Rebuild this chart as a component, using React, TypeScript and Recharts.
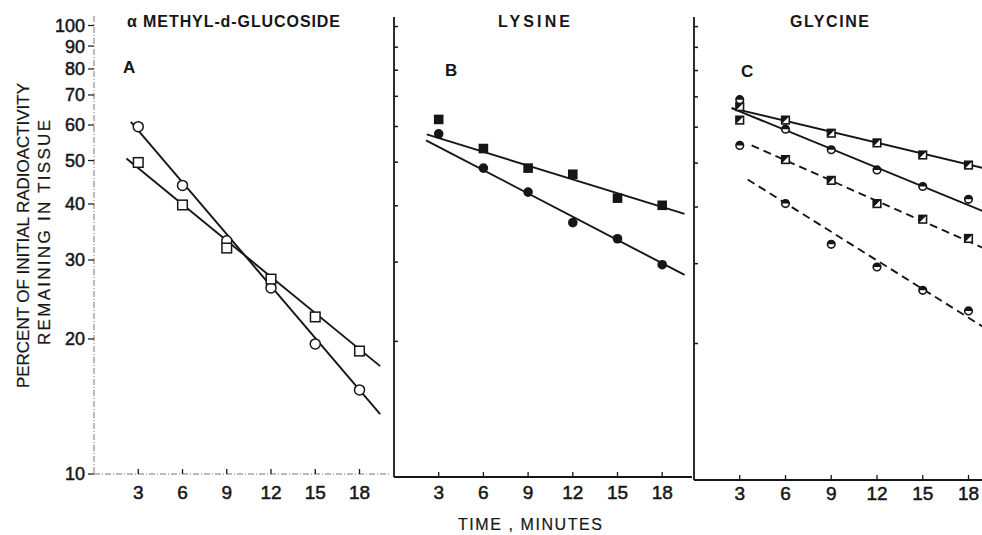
import { ComposedChart, Line, Scatter, XAxis, YAxis } from "recharts";

const INK = "#161616";
const FONT = "'Liberation Sans', Arial, sans-serif";

const minutes = [3, 6, 9, 12, 15, 18];
const yTicks = [10, 20, 30, 40, 50, 60, 70, 80, 90, 100];

// A: alpha methyl-d-glucoside
const glucosideCircles = [59.5, 44.0, 33.1, 26.0, 19.5, 15.4];
const glucosideSquares = [49.5, 39.8, 31.9, 27.2, 22.4, 18.8];
const glucosideCircleFit = [[2.5, 61], [19.4, 13.6]];
const glucosideSquareFit = [[2.2, 50.5], [19.4, 17.4]];

// B: lysine
const lysineSquares = [62.2, 53.6, 48.5, 47.0, 41.6, 40.1];
const lysineCircles = [57.8, 48.5, 42.9, 36.7, 33.8, 29.6];
const lysineSquareFit = [[2.2, 57.6], [19.5, 38.4]];
const lysineCircleFit = [[2.15, 55.9], [19.5, 28.1]];

// C: glycine
const glycineSquaresSolid = [66.6, 62.2, 58.2, 55.4, 52.1, 49.5];
const glycineCirclesSolid = [69.0, 59.4, 53.5, 48.3, 44.4, 41.6];
const glycineSquaresDashed = [62.2, 50.9, 45.8, 40.7, 37.6, 34.1];
const glycineCirclesDashed = [54.7, 40.7, 33.1, 29.5, 26.2, 23.6];
const glycineSquareSolidFit = [[2.47, 66.1], [19.5, 48.3]];
const glycineCircleSolidFit = [[2.47, 66.1], [19.5, 38.5]];
const glycineSquareDashedFit = [[3.78, 54.7], [19.5, 31.9]];
const glycineCircleDashedFit = [[3.52, 46.0], [19.5, 21.2]];

type Pt = { x: number; y: number };
const toPoints = (ys: number[]): Pt[] => minutes.map((x, i) => ({ x, y: ys[i] }));
const toFit = (pairs: number[][]): Pt[] => pairs.map(([x, y]) => ({ x, y }));

const OpenCircle = (p: any) => (
  <circle cx={p.cx} cy={p.cy} r={5} fill="#fff" stroke={INK} strokeWidth={1.5} />
);
const OpenSquare = (p: any) => (
  <rect x={p.cx - 4.8} y={p.cy - 4.8} width={9.6} height={9.6} fill="#fff" stroke={INK} strokeWidth={1.5} />
);
const FilledCircle = (p: any) => <circle cx={p.cx} cy={p.cy} r={4.8} fill={INK} />;
const FilledSquare = (p: any) => (
  <rect x={p.cx - 4.8} y={p.cy - 4.8} width={9.6} height={9.6} fill={INK} />
);
const HalfCircle = (p: any) => {
  const r = 3.8;
  return (
    <g>
      <circle cx={p.cx} cy={p.cy} r={r} fill="#fff" stroke={INK} strokeWidth={1.6} />
      <path d={`M${p.cx - r},${p.cy} A${r},${r} 0 0 1 ${p.cx + r},${p.cy} Z`} fill={INK} />
    </g>
  );
};
const HalfSquare = (p: any) => {
  const s = 3.8;
  return (
    <g>
      <rect x={p.cx - s} y={p.cy - s} width={2 * s} height={2 * s} fill="#fff" stroke={INK} strokeWidth={1.6} />
      <path d={`M${p.cx - s},${p.cy - s} L${p.cx + s},${p.cy - s} L${p.cx - s},${p.cy + s} Z`} fill={INK} />
    </g>
  );
};

const YTickOut = (p: any) => (
  <g>
    <line x1={p.x - 6} x2={p.x} y1={p.y} y2={p.y} stroke={INK} strokeWidth={1.2} />
    <text
      x={p.x - 9}
      y={p.y}
      dy="0.36em"
      textAnchor="end"
      fontSize={18}
      fill={INK}
      stroke={INK}
      strokeWidth={0.5}
      fontFamily={FONT}
    >
      {p.payload.value}
    </text>
  </g>
);
const YTickIn = (p: any) => (
  <line x1={p.x} x2={p.x + 4} y1={p.y} y2={p.y} stroke={INK} strokeWidth={1.5} />
);
const makeXTick = (dy: number) => (p: any) => (
  <g>
    <line x1={p.x} x2={p.x} y1={p.y} y2={p.y - 5} stroke={INK} strokeWidth={1.3} />
    <text
      x={p.x}
      y={p.y + dy}
      textAnchor="middle"
      fontSize={19}
      fill={INK}
      stroke={INK}
      strokeWidth={0.5}
      fontFamily={FONT}
    >
      {p.payload.value}
    </text>
  </g>
);

type SeriesDef = { name: string; values: number[]; shape: (p: any) => any };
type FitDef = { name: string; pairs: number[][]; dashed?: boolean };

function Panel(props: {
  left: number;
  width: number;
  margin: { top: number; right: number; bottom: number; left: number };
  yWidth: number;
  first?: boolean;
  labelDy: number;
  series: SeriesDef[];
  fits: FitDef[];
}) {
  const { left, width, margin, yWidth, first, labelDy, series, fits } = props;
  const axisStyle = first
    ? { stroke: "#777", strokeWidth: 1, strokeDasharray: "6 2 1 2" }
    : { stroke: INK, strokeWidth: 1.8 };
  return (
    <div style={{ position: "absolute", left, top: 0 }}>
      <ComposedChart width={width} height={535} margin={margin}>
        <XAxis
          type="number"
          dataKey="x"
          domain={[0, 20]}
          allowDataOverflow
          ticks={minutes}
          tickSize={0}
          tickMargin={0}
          tickLine={false}
          height={30}
          axisLine={axisStyle}
          tick={makeXTick(labelDy)}
        />
        <YAxis
          type="number"
          dataKey="y"
          scale="log"
          domain={[10, 105]}
          allowDataOverflow
          ticks={yTicks}
          interval={0}
          tickSize={0}
          tickMargin={0}
          tickLine={false}
          width={yWidth}
          axisLine={axisStyle}
          tick={first ? YTickOut : YTickIn}
        />
        {fits.map((f) => (
          <Line
            key={f.name}
            data={toFit(f.pairs)}
            dataKey="y"
            type="linear"
            stroke={INK}
            strokeWidth={1.9}
            strokeDasharray={f.dashed ? "8 5" : undefined}
            dot={false}
            activeDot={false}
            isAnimationActive={false}
          />
        ))}
        {series.map((s) => (
          <Scatter
            key={s.name}
            name={s.name}
            data={toPoints(s.values)}
            shape={s.shape}
            isAnimationActive={false}
          />
        ))}
      </ComposedChart>
    </div>
  );
}

const textStyle = { fontFamily: FONT, fill: INK };

export default function App() {
  return (
    <div
      style={{
        position: "absolute",
        left: 0,
        top: 0,
        width: 982,
        height: 535,
        overflow: "hidden",
        background: "#fff",
      }}
    >
      <Panel
        left={0}
        width={392}
        margin={{ top: 16, right: 3, bottom: 31, left: 34 }}
        yWidth={60}
        first
        labelDy={25}
        fits={[
          { name: "circleFit", pairs: glucosideCircleFit },
          { name: "squareFit", pairs: glucosideSquareFit },
        ]}
        series={[
          { name: "circles", values: glucosideCircles, shape: OpenCircle },
          { name: "squares", values: glucosideSquares, shape: OpenSquare },
        ]}
      />
      <Panel
        left={384}
        width={310}
        margin={{ top: 17, right: 2, bottom: 28, left: 0 }}
        yWidth={10}
        labelDy={22}
        fits={[
          { name: "squareFit", pairs: lysineSquareFit },
          { name: "circleFit", pairs: lysineCircleFit },
        ]}
        series={[
          { name: "squares", values: lysineSquares, shape: FilledSquare },
          { name: "circles", values: lysineCircles, shape: FilledCircle },
        ]}
      />
      <Panel
        left={684}
        width={320}
        margin={{ top: 17, right: 5, bottom: 25, left: 0 }}
        yWidth={10}
        labelDy={20}
        fits={[
          { name: "squareSolidFit", pairs: glycineSquareSolidFit },
          { name: "circleSolidFit", pairs: glycineCircleSolidFit },
          { name: "squareDashedFit", pairs: glycineSquareDashedFit, dashed: true },
          { name: "circleDashedFit", pairs: glycineCircleDashedFit, dashed: true },
        ]}
        series={[
          { name: "squaresSolid", values: glycineSquaresSolid, shape: HalfSquare },
          { name: "circlesSolid", values: glycineCirclesSolid, shape: HalfCircle },
          { name: "squaresDashed", values: glycineSquaresDashed, shape: HalfSquare },
          { name: "circlesDashed", values: glycineCirclesDashed, shape: HalfCircle },
        ]}
      />
      <svg
        width={982}
        height={535}
        style={{ position: "absolute", left: 0, top: 0, pointerEvents: "none" }}
      >
        <g style={textStyle} fontWeight={700} fontSize={16}>
          <text x={127} y={27} textLength={213} lengthAdjust="spacing">α METHYL-d-GLUCOSIDE</text>
          <text x={498} y={27} textLength={72} lengthAdjust="spacing">LYSINE</text>
          <text x={790} y={27} textLength={79} lengthAdjust="spacing">GLYCINE</text>
          <text x={123} y={73} fontSize={17}>A</text>
          <text x={445} y={76} fontSize={17}>B</text>
          <text x={741} y={77} fontSize={17}>C</text>
        </g>
        <g style={textStyle} fontSize={17} stroke={INK} strokeWidth={0.2}>
          <text
            transform="translate(29,235.5) rotate(-90)"
            textAnchor="middle"
            textLength={305}
            lengthAdjust="spacing"
          >
            PERCENT OF INITIAL RADIOACTIVITY
          </text>
          <text
            transform="translate(50,232.5) rotate(-90)"
            textAnchor="middle"
            textLength={225}
            lengthAdjust="spacing"
          >
            REMAINING IN TISSUE
          </text>
          <text x={458} y={530} fontSize={16} textLength={144} lengthAdjust="spacing">
            TIME , MINUTES
          </text>
        </g>
      </svg>
    </div>
  );
}
